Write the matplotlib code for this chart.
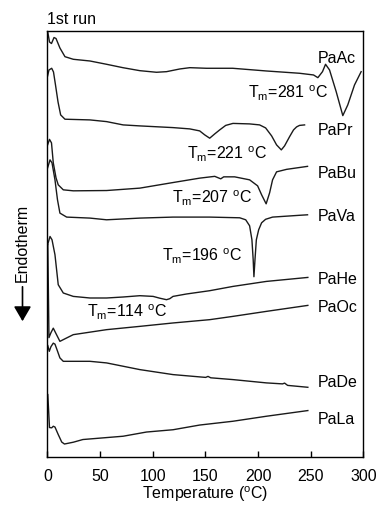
import matplotlib
matplotlib.use("Agg")
import matplotlib.pyplot as plt

plt.rcParams['font.family'] = ['Liberation Sans', 'DejaVu Sans']
plt.rcParams['mathtext.fontset'] = 'custom'
plt.rcParams['mathtext.rm'] = 'Liberation Sans'

# ---- data: temperature (°C) and heat flow (a.u., stacked, endotherm down) ----
T_PaAc = [0.1, 1.9, 3.8, 6.2, 8.1, 11.8, 16.6, 24.5, 40.3, 56.1, 71.6, 87.7, 103.5, 113, 125.6, 135.1,
          150.9, 175.8, 207.8, 239.3, 252.6, 256.7, 261.1, 264, 267.8, 274.1, 280.4, 285.1, 291.5, 297.8]
H_PaAc = [426, 415, 413.5, 419.5, 418.5, 409, 400.3, 397.7, 396, 392.7, 389.3, 386.3, 384.7, 385.3, 388, 389.3,
          388.7, 388.7, 386, 383.7, 382, 379.3, 385.3, 392.7, 387, 365.3, 341.3, 352, 372, 385.3]

T_PaPr = [0.1, 1.4, 4, 5.7, 7.6, 10, 12.5, 16.6, 40.3, 56.1, 71.8, 87.7, 119.2, 135.1, 144.5, 149.3, 154,
          158.8, 163.5, 169.2, 176.1, 191.9, 201.4, 207.1, 212.8, 217.5, 222, 225.1, 229.9, 233.6, 236.5, 239.3, 244.1]
H_PaPr = [381, 387, 388.7, 385, 372, 355, 342, 337.7, 337, 335.3, 332, 331, 329.3, 328, 326, 322, 318.7,
          323, 327, 331.5, 333.5, 333, 332, 329, 321, 312, 307, 311, 320.3, 327, 330, 331.5, 332]

T_PaBu = [0.1, 1.9, 3.8, 5.5, 8.1, 10.2, 15, 24.5, 56.1, 87.7, 119.2, 144.5, 158.8, 164.5, 167.3, 177.7,
          191.9, 199.5, 203.3, 207.6, 210.9, 213.7, 217.5, 227, 246.9]
H_PaBu = [312, 317.5, 314, 294, 279, 272, 267, 266, 266.3, 268.7, 274.3, 278.7, 280.5, 278, 280, 280,
          277, 271, 262, 253, 264, 277, 285, 287.5, 290.5]

T_PaVa = [0.1, 2.4, 4.3, 7.1, 9.5, 11.8, 18.2, 40.3, 56.1, 87.7, 119.2, 154, 182.5, 188.2, 191.9, 194.1,
          195.3, 196, 197, 198.3, 200.5, 203.3, 207.1, 213.7, 239.3, 246.9]
H_PaVa = [289, 297, 294, 277, 257, 243.7, 239.7, 238.7, 237, 238.7, 239.7, 239.7, 239, 237, 231, 217,
          197, 180, 197, 217, 227, 234, 237.5, 239.7, 241.5, 242]

T_PaHe = [0.1, 2.4, 4.3, 7.1, 10.2, 15, 24.5, 40.3, 56.1, 71.8, 87.7, 100.3, 106.6, 113, 116.1, 119.2,
          131.9, 154, 176.1, 207.8, 247.2]
H_PaHe = [212, 220.3, 217, 202, 172, 163.7, 160.3, 158.7, 158.7, 159.7, 161, 160.3, 158.5, 157, 158, 160.3,
          162.7, 166, 170.3, 175.3, 179.3]

T_PaOc = [0.3, 1.4, 3.3, 5.5, 8.1, 11.8, 18.2, 24.5, 56.1, 87.7, 119.2, 154, 176.1, 207.8, 247.2]
H_PaOc = [212, 119, 124, 128.5, 123, 115.3, 118.7, 122, 127, 130.3, 133.7, 137, 140.3, 145.3, 151.3]

T_PaDe = [0.3, 1.7, 3.3, 5.5, 7.1, 9, 11.8, 15, 40.3, 56.1, 87.7, 119.2, 144.5, 150.2, 152.4, 155,
          176.1, 207.8, 223.2, 225.1, 228, 247.2]
H_PaDe = [111, 105.3, 110, 113.5, 112.5, 107, 98.7, 95.3, 95.3, 93.7, 87, 82, 79.7, 79.2, 80.2, 78.8,
          77, 73.7, 72.7, 73.5, 71.2, 69.3]

T_PaLa = [0.3, 1.9, 4, 5.5, 7.1, 10.2, 13.5, 16.1, 24.5, 33.6, 71.8, 94, 119.2, 144.5, 176.1, 207.8, 247.2]
H_PaLa = [62, 29, 28.7, 30.3, 29.5, 22, 14.5, 12.5, 14.3, 17, 20.3, 24.5, 26.8, 31.5, 35.3, 40.3, 46]

series = [("PaAc", T_PaAc, H_PaAc), ("PaPr", T_PaPr, H_PaPr), ("PaBu", T_PaBu, H_PaBu),
          ("PaVa", T_PaVa, H_PaVa), ("PaHe", T_PaHe, H_PaHe), ("PaOc", T_PaOc, H_PaOc),
          ("PaDe", T_PaDe, H_PaDe), ("PaLa", T_PaLa, H_PaLa)]

# label anchor heights (a.u.)
label_names = ["PaAc", "PaPr", "PaBu", "PaVa", "PaHe", "PaOc", "PaDe", "PaLa"]
label_y = [398, 326, 283, 240, 177, 149, 74, 37]

tm_values = [281, 221, 207, 196, 114]
tm_pos_T = [266, 208, 194, 185, 113]
tm_pos_H = [364, 303, 258, 200, 144]

xticks = [0, 50, 100, 150, 200, 250, 300]

fig = plt.figure(figsize=(3.79, 5.07), dpi=100)
ax = fig.add_axes([0.1253, 0.0996, 0.8337, 0.8402])

for name, T, H in series:
    ax.plot(T, H, color='#1a1a1a', lw=1.0, solid_joinstyle='round')

for name, y in zip(label_names, label_y):
    ax.text(257, y, name, fontsize=11.5, ha='left', va='center')

for v, t, h in zip(tm_values, tm_pos_T, tm_pos_H):
    ax.text(t, h, r'T$_\mathregular{m}$=%d $^\mathregular{o}$C' % v, fontsize=11.5, ha='right', va='center')

ax.set_xlim(0, 300)
ax.set_ylim(0, 426.5)
ax.set_xticks(xticks)
ax.set_yticks([])
ax.tick_params(axis='x', direction='in', length=4, width=1, labelsize=11.5, pad=9)
for s in ax.spines.values():
    s.set_linewidth(1.0)
ax.set_xlabel(r'Temperature ($^\mathregular{o}$C)', fontsize=11.5, labelpad=0.5)

fig.text(47 / 379, 1 - 19 / 507, '1st run', fontsize=11.5, ha='left', va='center')

fig.text(22.5 / 379, 1 - 243 / 507, 'Endotherm', fontsize=11.5, rotation=90, ha='center', va='center')
fig.patches.append(matplotlib.patches.FancyArrowPatch(
    (22.5 / 379, 1 - 284 / 507), (22.5 / 379, 1 - 324 / 507), transform=fig.transFigure,
    arrowstyle='-|>,head_length=6,head_width=3.5', color='black', lw=1.2, mutation_scale=1.5))

fig.savefig('out.png', dpi=100)
